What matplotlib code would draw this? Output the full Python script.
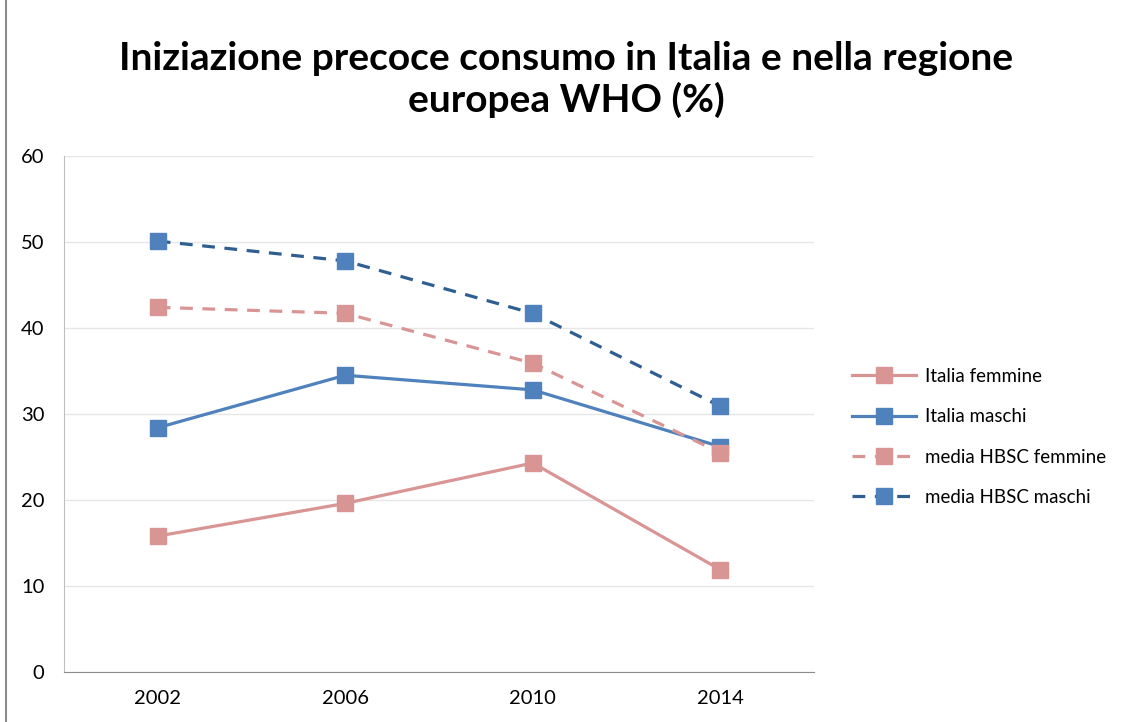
import matplotlib
matplotlib.use("Agg")
import matplotlib.pyplot as plt
from matplotlib.patches import Rectangle

plt.rcParams['font.family'] = ['Lato', 'DejaVu Sans']

years = ['2002', '2006', '2010', '2014']
italia_femmine = [15.8, 19.6, 24.3, 11.9]
italia_maschi = [28.4, 34.5, 32.8, 26.2]
hbsc_femmine = [42.4, 41.7, 35.9, 25.5]
hbsc_maschi = [50.1, 47.8, 41.7, 30.9]

pink = '#D99594'
blue = '#4F81BD'
dark_blue = '#2F5E91'

fig = plt.figure(figsize=(11.24, 7.22), dpi=100)
ax = fig.add_axes([0.0569, 0.0693, 0.6673, 0.7147])

x = range(len(years))
ax.plot(x, italia_femmine, color=pink, lw=2.3, marker='s', ms=11,
        mfc=pink, mec=pink, label='Italia femmine')
ax.plot(x, italia_maschi, color=blue, lw=2.3, marker='s', ms=11,
        mfc=blue, mec=blue, label='Italia maschi')
ax.plot(x, hbsc_femmine, color=pink, lw=2.3, ls=(0, (4, 3)), marker='s', ms=11,
        mfc=pink, mec=pink, label='media HBSC femmine')
ax.plot(x, hbsc_maschi, color=dark_blue, lw=2.3, ls=(0, (4, 3)), marker='s', ms=11,
        mfc=blue, mec=blue, label='media HBSC maschi')

ax.set_xlim(-0.5, 3.5)
ax.set_ylim(0, 60)
ax.set_yticks(range(0, 61, 10))
ax.set_xticks(list(x))
ax.set_xticklabels(years)
ax.grid(axis='y', color='#E6E6E6', lw=1)
ax.set_axisbelow(True)
for s in ['top', 'right']:
    ax.spines[s].set_visible(False)
ax.spines['left'].set_color('#BFBFBF')
ax.spines['bottom'].set_color('#8C8C8C')
ax.tick_params(axis='both', length=0, labelsize=14.5)
ax.tick_params(axis='x', pad=13)
ax.tick_params(axis='y', pad=14)

fig.text(0.504, 0.890, 'Iniziazione precoce consumo in Italia e nella regione\neuropea WHO (%)',
         ha='center', va='center', fontsize=28, fontweight='bold', linespacing=1.18)

fig.legend(loc='center left', bbox_to_anchor=(0.743, 0.395), frameon=False,
           fontsize=13.5, handlelength=3.4, handletextpad=0.5, labelspacing=1.25)

fig.patches.append(Rectangle((0.005, -0.01), 1.2, 1.2, transform=fig.transFigure,
                             fill=False, ec='#8C8C8C', lw=1.5))

fig.savefig('out.png', dpi=100)
